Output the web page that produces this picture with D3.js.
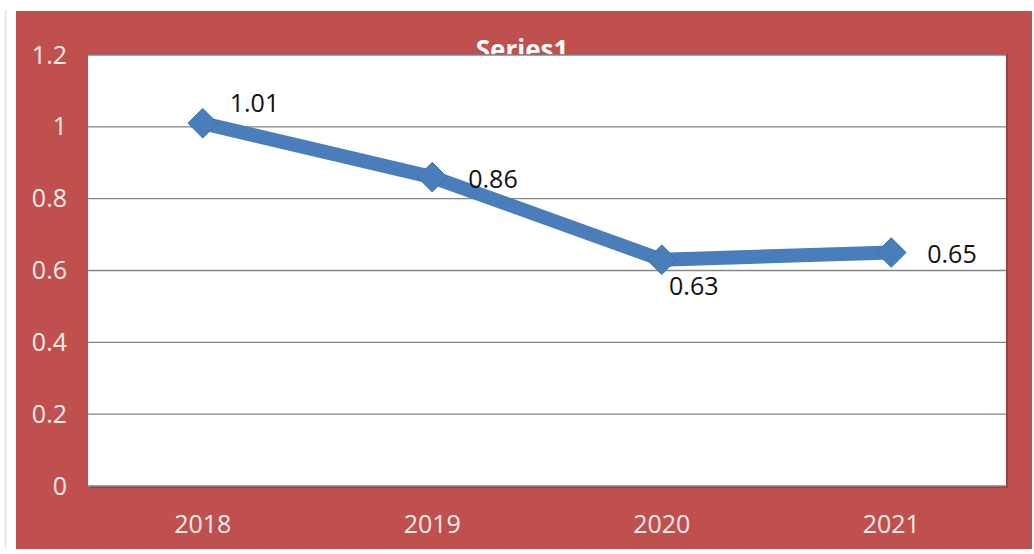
<!DOCTYPE html>
<html><head><meta charset="utf-8">
<script src="https://cdn.jsdelivr.net/npm/d3@7"></script>
<style>body{margin:0;background:#fff}svg{display:block}</style>
</head><body>
<script>
const categories = ["2018","2019","2020","2021"];
const values = [1.01,0.86,0.63,0.65];
const labelPos = ["aboveRight","right","below","right"];
const yTicks = [0,0.2,0.4,0.6,0.8,1,1.2];
const title = "Series1";

const W=1034,H=554;
const svg=d3.select("body").append("svg").attr("width",W).attr("height",H);
const font="'Open Sans', 'Liberation Sans', sans-serif";
svg.append("line").attr("x1",5.5).attr("x2",5.5).attr("y1",10).attr("y2",548).attr("stroke","#dfe6e6").attr("stroke-width",1.5);
svg.append("rect").attr("x",16).attr("y",11).attr("width",1016).attr("height",538).attr("fill","#c0504d");

const m={l:88,t:55,r:1006,b:486};
svg.append("text").attr("x",522).attr("y",59).attr("text-anchor","middle")
  .attr("font-family",font).attr("font-weight","bold").attr("font-size",26).attr("fill","#fff").text(title);

const x=d3.scaleBand().domain(categories).range([m.l,m.r]);
const y=d3.scaleLinear().domain([0,1.2]).range([m.b,m.t]);

svg.append("rect").attr("x",m.l+2).attr("y",m.t-1).attr("width",m.r-m.l).attr("height",m.b-m.t+3).attr("fill","#7a3634").attr("opacity",0.55);
svg.append("rect").attr("x",m.l).attr("y",m.t).attr("width",m.r-m.l).attr("height",m.b-m.t).attr("fill","#fff");

svg.append("g").selectAll("line").data(yTicks).join("line")
  .attr("x1",m.l).attr("x2",m.r).attr("y1",d=>y(d)).attr("y2",d=>y(d))
  .attr("stroke","#868686").attr("stroke-width",1.3);

const ya=svg.append("g").attr("transform",`translate(${m.l},0)`)
  .call(d3.axisLeft(y).tickValues(yTicks).tickSize(0).tickPadding(21).tickFormat(d=>String(d)));
ya.select(".domain").remove();
ya.selectAll("text").attr("font-family",font).attr("font-size",25).attr("fill","#fbeceb");

const xa=svg.append("g").attr("transform",`translate(0,${m.b})`)
  .call(d3.axisBottom(x).tickSize(0).tickPadding(29));
xa.select(".domain").remove();
xa.selectAll("text").attr("font-family",font).attr("font-size",25).attr("fill","#fbeceb");

const pts=categories.map((c,i)=>({c,v:values[i],p:labelPos[i]}));
const cx=d=>x(d.c)+x.bandwidth()/2;
const line=d3.line().x(cx).y(d=>y(d.v));
svg.append("path").datum(pts).attr("d",line).attr("fill","none")
  .attr("stroke","#4a7ebb").attr("stroke-width",14).attr("stroke-linejoin","round");

const sym=d3.symbol().type(d3.symbolDiamond2).size(560);
svg.append("g").selectAll("path").data(pts).join("path")
  .attr("transform",d=>`translate(${cx(d)},${y(d.v)})`)
  .attr("d",sym).attr("fill","#4a7ebb").attr("stroke","#3f70ab").attr("stroke-width",1);

const off={aboveRight:[27,-20,"start"],right:[36,2,"start"],below:[32,27,"middle"]};
svg.append("g").selectAll("text").data(pts).join("text")
  .attr("x",d=>cx(d)+off[d.p][0])
  .attr("y",d=>y(d.v)+off[d.p][1])
  .attr("dy","0.35em").attr("text-anchor",d=>off[d.p][2])
  .attr("font-family",font).attr("font-size",25).attr("fill","#111").text(d=>d.v);
</script>
</body></html>
